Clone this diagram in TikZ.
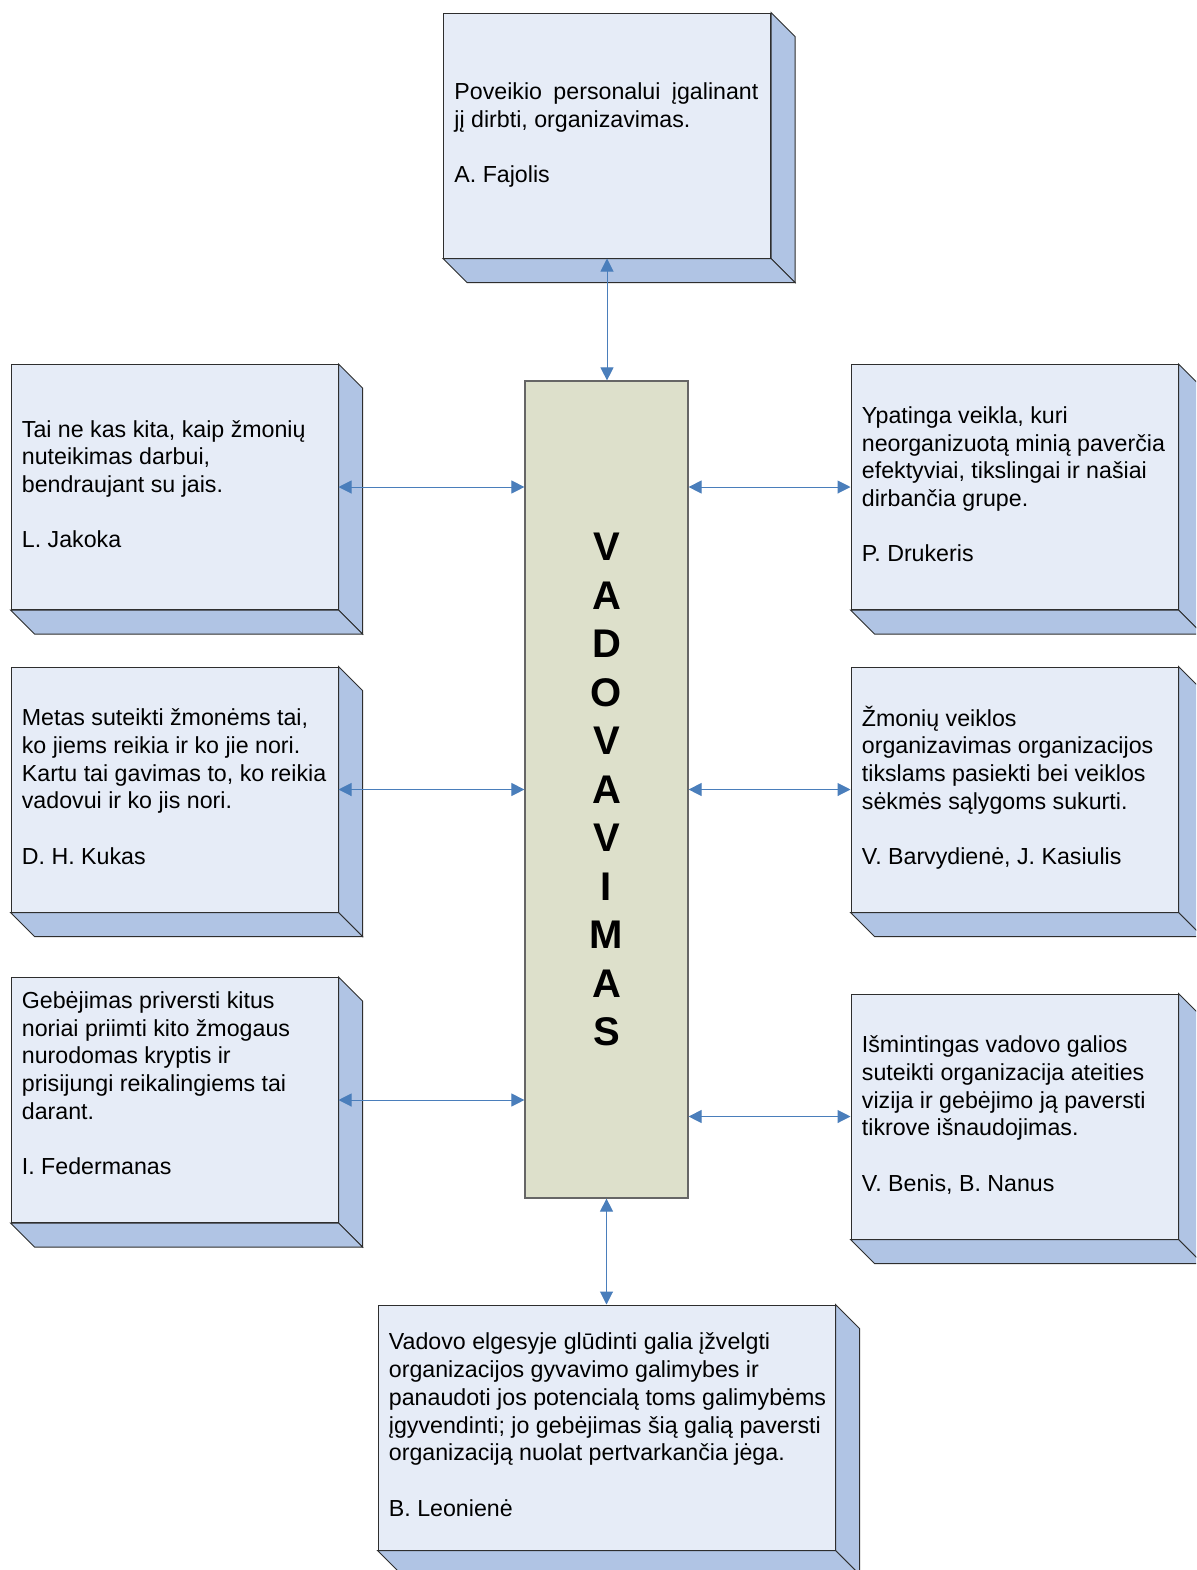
\documentclass[tikz,border=0pt]{standalone}
\usepackage{fontspec}
\setmainfont{Liberation Sans}
\usetikzlibrary{arrows.meta}
\definecolor{frontc}{HTML}{E6ECF7}
\definecolor{sidec}{HTML}{B0C4E4}
\definecolor{midc}{HTML}{DDE0CB}
\definecolor{arrc}{HTML}{4A7EBB}
\definecolor{edgec}{HTML}{2E2E2E}
\tikzset{
  cubebox/.style={draw=edgec, line width=0.5pt, fill=frontc,
    minimum width=163.5pt, minimum height=122.5pt, inner sep=0pt},
  widebox/.style={cubebox, minimum width=228.5pt},
  txt/.style={anchor=west, align=left, inner sep=0pt,
    font=\fontsize{11.6pt}{13.85pt}\selectfont},
  sideface/.style={draw=edgec, line width=0.5pt, fill=sidec, line join=miter},
  midbox/.style={draw=black!60, line width=0.6pt, fill=midc,
    minimum width=81.5pt, minimum height=408.5pt, inner sep=0pt, align=center,
    font=\fontsize{20pt}{24.25pt}\bfseries\selectfont},
  link/.style={draw=arrc, line width=0.5pt,
    {Triangle[length=6.5pt,width=6.5pt]}-{Triangle[length=6.5pt,width=6.5pt]}}
}
\newcommand\cubesides[1]{%
  \path[sideface] (#1.north east) -- ([shift={(24,24)}]#1.north east)
    -- ([shift={(24,24)}]#1.south east) -- (#1.south east) -- cycle;
  \path[sideface] (#1.south west) -- (#1.south east)
    -- ([shift={(24,24)}]#1.south east) -- ([shift={(24,24)}]#1.south west) -- cycle;}
\begin{document}
\begin{tikzpicture}[x=0.5pt, y=-0.5pt]
\useasboundingbox (0,0) rectangle (1196,1570);
\clip (0,0) rectangle (1196,1570);
\fill[white] (0,0) rectangle (1196,1570);

\node[cubebox] (T) at (607,135.5) {};
\node[cubebox] (L1) at (174.5,487) {};
\node[cubebox] (L2) at (174.5,789.5) {};
\node[cubebox] (L3) at (174.5,1100) {};
\node[cubebox] (R1) at (1014.5,487) {};
\node[cubebox] (R2) at (1014.5,789.5) {};
\node[cubebox] (R3) at (1014.5,1116.5) {};
\node[widebox] (B) at (606.5,1427.5) {};

\foreach \n in {T,L1,L2,L3,R1,R2,R3,B} {\cubesides{\n}}

\node[txt] (Tt) at ([xshift=5.5pt]T.west) {\strut\makebox[152pt][s]{Poveikio personalui įgalinant}\\
jį dirbti, organizavimas.\\[13.85pt]
A. Fajolis\strut};

\node[txt] (L1t) at ([xshift=5.5pt]L1.west) {\strut Tai ne kas kita, kaip žmonių\\
nuteikimas darbui,\\
bendraujant su jais.\\[13.85pt]
L. Jakoka\strut};

\node[txt] (L2t) at ([xshift=5.5pt]L2.west) {\strut Metas suteikti žmonėms tai,\\
ko jiems reikia ir ko jie nori.\\
Kartu tai gavimas to, ko reikia\\
vadovui ir ko jis nori.\\[13.85pt]
D. H. Kukas\strut};

\node[txt] (L3t) at ([xshift=5.5pt,yshift=7pt]L3.west) {\strut Gebėjimas priversti kitus\\
noriai priimti kito žmogaus\\
nurodomas kryptis ir\\
prisijungi reikalingiems tai\\
darant.\\[13.85pt]
I. Federmanas\strut};

\node[txt] (R1t) at ([xshift=5.5pt]R1.west) {\strut Ypatinga veikla, kuri\\
neorganizuotą minią paverčia\\
efektyviai, tikslingai ir našiai\\
dirbančia grupe.\\[13.85pt]
P. Drukeris\strut};

\node[txt] (R2t) at ([xshift=5.5pt]R2.west) {\strut Žmonių veiklos\\
organizavimas organizacijos\\
tikslams pasiekti bei veiklos\\
sėkmės sąlygoms sukurti.\\[13.85pt]
V. Barvydienė, J. Kasiulis\strut};

\node[txt] (R3t) at ([xshift=5.5pt]R3.west) {\strut Išmintingas vadovo galios\\
suteikti organizacija ateities\\
vizija ir gebėjimo ją paversti\\
tikrove išnaudojimas.\\[13.85pt]
V. Benis, B. Nanus\strut};

\node[txt] (Bt) at ([xshift=5.5pt]B.west) {\strut Vadovo elgesyje glūdinti galia įžvelgti\\
organizacijos gyvavimo galimybes ir\\
panaudoti jos potencialą toms galimybėms\\
įgyvendinti; jo gebėjimas šią galią paversti\\
organizaciją nuolat pertvarkančia jėga.\\[13.85pt]
B. Leonienė\strut};

\node[midbox] (C) at (606.5,789.5) {V\\A\\D\\O\\V\\A\\V\\I\\M\\A\\S};

\draw[link] (T.south) -- (T.south |- C.north);
\draw[link] (B.north) -- (B.north |- C.south);
\draw[link] (L1.east) -- (L1.east -| C.west);
\draw[link] (L2.east) -- (L2.east -| C.west);
\draw[link] (L3.east) -- (L3.east -| C.west);
\draw[link] (R1.west) -- (R1.west -| C.east);
\draw[link] (R2.west) -- (R2.west -| C.east);
\draw[link] (R3.west) -- (R3.west -| C.east);
\end{tikzpicture}
\end{document}
